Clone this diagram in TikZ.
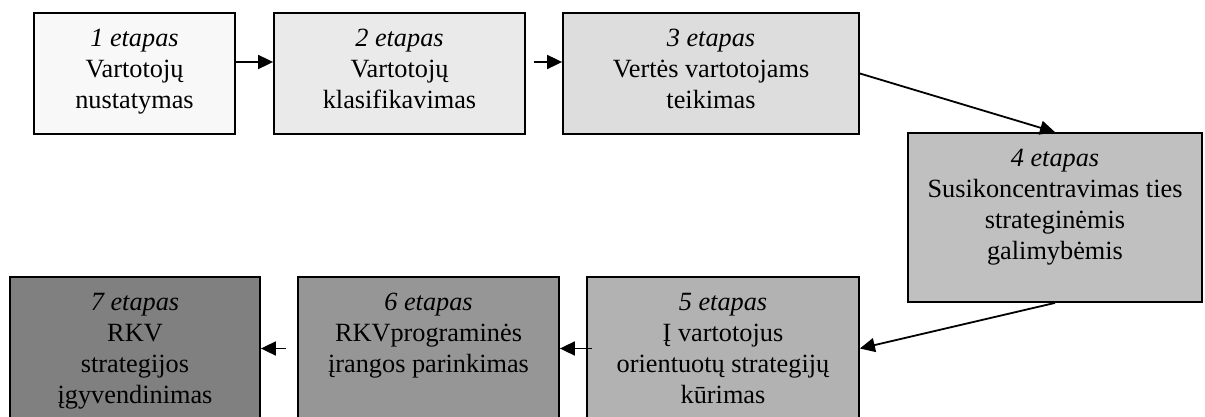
\documentclass[tikz,border=0pt]{standalone}
\usepackage{fontspec}
\setmainfont{Liberation Serif}
\usetikzlibrary{arrows.meta}
\definecolor{shadeA}{HTML}{F8F8F8}
\definecolor{shadeB}{HTML}{EAEAEA}
\definecolor{shadeC}{HTML}{DDDDDD}
\definecolor{shadeD}{HTML}{C0C0C0}
\definecolor{shadeE}{HTML}{B2B2B2}
\definecolor{shadeF}{HTML}{969696}
\definecolor{shadeG}{HTML}{808080}
\newcommand{\stagetitle}[1]{\rule{0pt}{20pt}\textit{#1}}
\begin{document}
\begin{tikzpicture}[x=1pt,y=-1pt,
  stage/.style={draw=black, line width=1.8pt, inner sep=0pt},
  caption/.style={align=center, inner sep=0pt, anchor=north,
    font=\fontsize{26.3}{31}\selectfont},
  flow/.style={line width=1.8pt, -{Triangle[length=15pt,width=14pt]}}]
\useasboundingbox (0,0) rectangle (1205,417);
\clip (0,0) rectangle (1205,417);

% stage boxes
\node[stage, fill=shadeA, minimum width=201pt, minimum height=121pt] (b1) at (134.5,73.5) {};
\node[stage, fill=shadeB, minimum width=251pt, minimum height=121pt] (b2) at (399.5,73.5) {};
\node[stage, fill=shadeC, minimum width=296pt, minimum height=121pt] (b3) at (711,73.5) {};
\node[stage, fill=shadeD, minimum width=294pt, minimum height=169pt] (b4) at (1055,217.5) {};
\node[stage, fill=shadeE, minimum width=272pt, minimum height=143pt] (b5) at (723,348.5) {};
\node[stage, fill=shadeF, minimum width=261pt, minimum height=143pt] (b6) at (428.5,348.5) {};
\node[stage, fill=shadeG, minimum width=250pt, minimum height=143pt] (b7) at (135,348.5) {};

% stage captions
\node[caption] (t1) at ([yshift=-14.5pt]b1.north) {\stagetitle{1 etapas}\\Vartotojų\\nustatymas};
\node[caption] (t2) at ([yshift=-14.5pt]b2.north) {\stagetitle{2 etapas}\\Vartotojų\\klasifikavimas};
\node[caption] (t3) at ([yshift=-14.5pt]b3.north) {\stagetitle{3 etapas}\\Vertės vartotojams\\teikimas};
\node[caption] (t4) at ([yshift=-14.5pt]b4.north) {\stagetitle{4 etapas}\\Susikoncentravimas ties\\strateginėmis\\galimybėmis};
\node[caption] (t5) at ([yshift=-14.5pt]b5.north) {\stagetitle{5 etapas}\\Į vartotojus\\orientuotų strategijų\\kūrimas};
\node[caption] (t6) at ([yshift=-14.5pt]b6.north) {\stagetitle{6 etapas}\\RKVprograminės\\įrangos parinkimas};
\node[caption] (t7) at ([yshift=-14.5pt]b7.north) {\stagetitle{7 etapas}\\RKV\\strategijos\\įgyvendinimas};

% connectors
\draw[flow] ([yshift=11.5pt]b1.east) -- ([yshift=11.5pt]b2.west);
\draw[flow] ([xshift=8pt,yshift=11.5pt]b2.east) -- ([yshift=11.5pt]b3.west);
\draw[flow] (b3.east) -- (b4.north);
\draw[flow] (b4.south) -- (b5.east);
\draw[flow] ([xshift=6pt]b5.west) -- (b6.east);
\draw[flow] ([xshift=-11pt]b6.west) -- (b7.east);
\end{tikzpicture}
\end{document}
